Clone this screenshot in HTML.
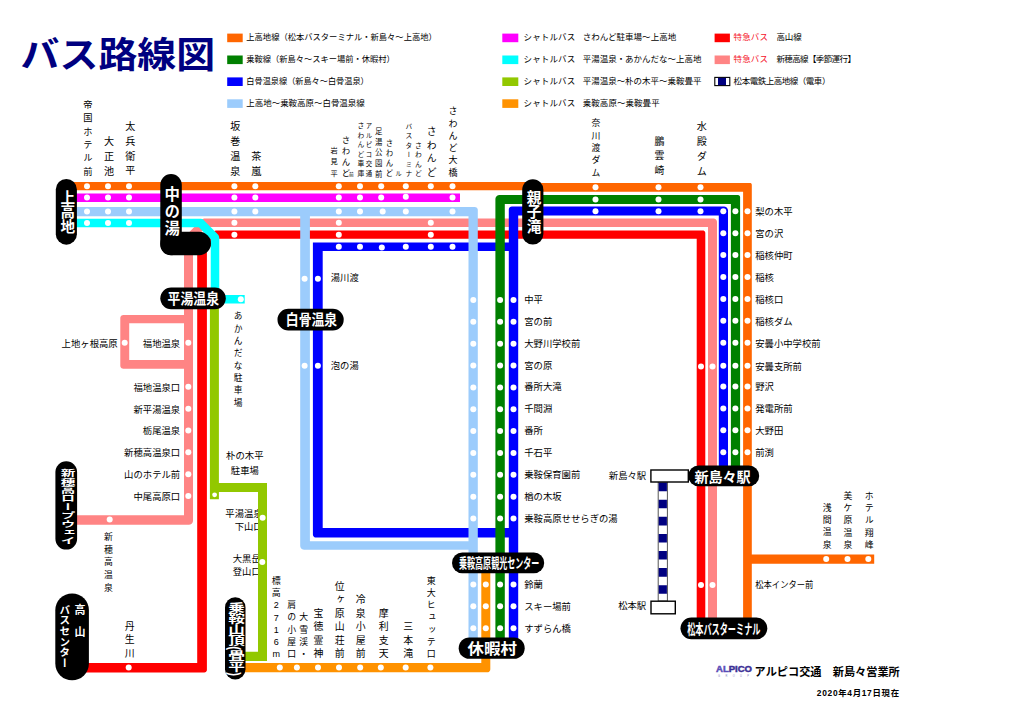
<!DOCTYPE html>
<html lang="ja"><head><meta charset="utf-8"><title>バス路線図</title><style>html,body{margin:0;padding:0;background:#fff}svg{display:block;font-family:"Liberation Sans","Noto Sans CJK JP",sans-serif}.v{writing-mode:vertical-rl}</style></head><body>
<svg width="1020" height="720" viewBox="0 0 1020 720" role="img" aria-label="バス路線図">
<rect width="1020" height="720" fill="#fff"/>
<text x="20.6" y="68.28" font-size="36" font-weight="bold" fill="#000080" textLength="194.5" lengthAdjust="spacingAndGlyphs">バス路線図</text>
<rect x="227.2" y="33.6" width="15.5" height="8.6" fill="#ff6600"/>
<text x="246.3" y="40.23" font-size="8.5" fill="#000" textLength="190.5" lengthAdjust="spacingAndGlyphs">上高地線（松本バスターミナル・新島々～上高地）</text>
<rect x="227.2" y="55.5" width="15.5" height="8.6" fill="#008000"/>
<text x="246.3" y="62.13" font-size="8.5" fill="#000" textLength="148.5" lengthAdjust="spacingAndGlyphs">乗鞍線（新島々～スキー場前・休暇村）</text>
<rect x="227.2" y="77.4" width="15.5" height="8.6" fill="#0000ff"/>
<text x="246.3" y="84.03" font-size="8.5" fill="#000" textLength="122.5" lengthAdjust="spacingAndGlyphs">白骨温泉線（新島々～白骨温泉）</text>
<rect x="227.2" y="99.3" width="15.5" height="8.6" fill="#9cccfc"/>
<text x="246.3" y="105.93" font-size="8.5" fill="#000" textLength="118.5">上高地～乗鞍高原～白骨温泉線</text>
<rect x="502.3" y="33.6" width="16" height="8.6" fill="#ff00ff"/>
<text x="523.6" y="40.23" font-size="8.5" fill="#000" textLength="51.6">シャトルバス</text>
<text x="582.7" y="40.23" font-size="8.5" fill="#000" textLength="93.5">さわんど駐車場～上高地</text>
<rect x="502.3" y="55.5" width="16" height="8.6" fill="#00ffff"/>
<text x="523.6" y="62.13" font-size="8.5" fill="#000" textLength="51.6">シャトルバス</text>
<text x="582.7" y="62.13" font-size="8.5" fill="#000" textLength="118.8">平湯温泉・あかんだな～上高地</text>
<rect x="502.3" y="77.4" width="16" height="8.6" fill="#92c800"/>
<text x="523.6" y="84.03" font-size="8.5" fill="#000" textLength="51.6">シャトルバス</text>
<text x="582.7" y="84.03" font-size="8.5" fill="#000" textLength="118.8">平湯温泉～朴の木平～乗鞍畳平</text>
<rect x="502.3" y="99.3" width="16" height="8.6" fill="#ff9200"/>
<text x="523.6" y="105.93" font-size="8.5" fill="#000" textLength="51.6">シャトルバス</text>
<text x="582.7" y="105.93" font-size="8.5" fill="#000" textLength="77">乗鞍高原～乗鞍畳平</text>
<rect x="714.6" y="33.6" width="15.3" height="8.6" fill="#ff0000"/>
<rect x="714.6" y="55.5" width="15.3" height="8.6" fill="#ff8484"/>
<rect x="714.8" y="77.4" width="15" height="8.2" fill="#fff" stroke="#000" stroke-width="1.1"/>
<rect x="718" y="77.9" width="8" height="7.2" fill="#000080"/>
<text x="733.6" y="40.23" font-size="8.5" fill="#f5142a" textLength="34.4">特急バス</text>
<text x="776.4" y="40.23" font-size="8.5" fill="#000" textLength="25.4">高山線</text>
<text x="733.6" y="62.13" font-size="8.5" fill="#f5142a" textLength="34.4">特急バス</text>
<text x="776.4" y="62.13" font-size="8.5" fill="#000" textLength="79.5">新穂高線【季節運行】</text>
<text x="733.6" y="84.03" font-size="8.5" fill="#000" textLength="96.8">松本電鉄上高地線（電車）</text>
<text x="225.3" y="517.35" font-size="9.35" fill="#000" textLength="37.4">平湯温泉</text>
<text x="234.65" y="530.25" font-size="9.35" fill="#000" textLength="28.05">下山口</text>
<text x="232.75" y="561.85" font-size="9.35" fill="#000" textLength="28.05">大黒岳</text>
<text x="232.75" y="574.75" font-size="9.35" fill="#000" textLength="28.05">登山口</text>
<path d="M202.48 219.05L202.12 219.27L201.78 219.52L201.47 219.8L190.57 230.65L190.29 230.95L190.05 231.27L185.05 238.57L184.83 238.94L184.64 239.32L184.49 239.73L184.42 240L184 240L184 315L123.3 315L122.37 315.15L121.54 315.57L120.87 316.24L120.45 317.07L120.3 318L120.3 365.7L120.45 366.63L120.87 367.46L121.54 368.13L122.37 368.55L123.3 368.7L184 368.7L184 515.3L70 515.3L70 524.7L189 524.7L190.24 524.5L191.35 523.94L192.24 523.05L192.8 521.94L193 520.7L193 242.19L196.92 236.46L206.33 227.1L708 227.1L708 628L717 628L717 221.9L716.84 220.88L716.37 219.96L715.64 219.23L714.72 218.76L713.7 218.6L206 218.6L206 218.55L204.5 218.55L204.08 218.57L203.66 218.63L203.26 218.73L202.86 218.88ZM129.2 323.3L184 323.3L184 360L129.2 360Z" fill="#ff8484"/>
<path d="M216.5 230.45L216.09 230.47L215.68 230.53L215.29 230.63L214.9 230.77L214.53 230.94L214.18 231.15L213.85 231.4L213.54 231.67L199.09 246.02L198.81 246.33L198.56 246.66L198.35 247.01L198.17 247.39L198.03 247.78L197.93 248.18L197.87 248.59L197.85 249L197.2 249L197.2 662.9L80 662.9L80 672.4L204.4 672.4L205.17 672.28L205.87 671.92L206.42 671.37L206.78 670.67L206.9 669.9L206.9 250.1L218.23 238.85L219 238.85L219 238.8L696.7 238.8L696.7 628L705.3 628L705.3 233L705.18 232.23L704.82 231.53L704.27 230.98L703.57 230.62L702.8 230.5L219 230.5L219 230.45Z" fill="#ff0000"/>
<g fill="none">
<path d="M70 223.05H200.6L215 237.45V299.15H244.7" stroke="#00ffff" stroke-width="8.5" stroke-linejoin="round"/>
</g>
<path d="M312.9 242.5L312.9 534.6L313.05 535.53L313.47 536.36L314.14 537.03L314.97 537.45L315.9 537.6L508.8 537.6L508.8 640L518.2 640L518.2 215.5L718.8 215.5L718.8 470L728 470L728 210.5L727.8 209.26L727.24 208.15L726.35 207.26L725.24 206.7L724 206.5L511.8 206.5L510.87 206.65L510.04 207.07L509.37 207.74L508.95 208.57L508.8 209.5L508.8 242.5ZM322.7 528L322.7 251.1L508.8 251.1L508.8 528Z" fill="#0000ff"/>
<path d="M70 207L70 216.2L300.2 216.2L300.2 545.8L300.4 547.04L300.96 548.15L301.85 549.04L302.96 549.6L304.2 549.8L468.5 549.8L468.5 640L477.8 640L477.8 210L477.65 209.07L477.23 208.24L476.56 207.57L475.73 207.15L474.8 207ZM309.9 216.2L468.5 216.2L468.5 541.3L309.9 541.3Z" fill="#9cccfc"/>
<path d="M495.4 199.1L495.4 640L504.8 640L504.8 204L730.9 204L730.9 470L740.1 470L740.1 197.1L740 196.48L739.72 195.92L739.28 195.48L738.72 195.2L738.1 195.1L499.4 195.1L498.16 195.3L497.05 195.86L496.16 196.75L495.6 197.86Z" fill="#008000"/>
<path d="M532 190.3L532 191.7L743.1 191.7L743.1 628L751.8 628L751.8 563.8L874.2 563.8L874.2 554.4L751.8 554.4L751.8 184.8L751.71 184.24L751.46 183.74L751.06 183.34L750.56 183.09L750 183L533 183L533 182L70 182L70 190.3Z" fill="#ff6600"/>
<path d="M460 193.4L460 201.9L70 201.9L70 193.4Z" fill="#ff00ff"/>
<path d="M209.9 300L209.9 499.3L218.9 499.3L218.9 492L258 492L258 651.8L240 651.8L240 660.9L267 660.9L267 483L218.9 483L218.9 300Z" fill="#92c800"/>
<path d="M481.3 663L240 663L240 672.3L487.3 672.3L488.23 672.15L489.06 671.73L489.73 671.06L490.15 670.23L490.3 669.3L490.3 565L481.3 565Z" fill="#ff9200"/>
<rect x="658.2" y="482" width="9.2" height="119" fill="#fff" stroke="#555" stroke-width="1"/>
<path d="M662.8 482.6V601" stroke="#000080" stroke-width="8.2" stroke-dasharray="8.6 8.5" fill="none"/>
<rect x="650.9" y="470" width="37.4" height="12" fill="#fff" stroke="#000" stroke-width="1.4"/>
<rect x="651" y="601.2" width="24.3" height="12.6" fill="#fff" stroke="#000" stroke-width="1.4"/>
<g fill="#fff">
<circle cx="87" cy="186.3" r="3"/>
<circle cx="108" cy="186.3" r="3"/>
<circle cx="129" cy="186.3" r="3"/>
<circle cx="234.4" cy="186.3" r="3"/>
<circle cx="255.3" cy="186.3" r="3"/>
<circle cx="338.8" cy="186.3" r="3"/>
<circle cx="360" cy="186.3" r="3"/>
<circle cx="381.2" cy="186.3" r="3"/>
<circle cx="405.8" cy="186.3" r="3"/>
<circle cx="430.8" cy="186.3" r="3"/>
<circle cx="452.5" cy="186.3" r="3"/>
<circle cx="595.5" cy="187.3" r="3"/>
<circle cx="658.5" cy="187.3" r="3"/>
<circle cx="700.5" cy="187.3" r="3"/>
<circle cx="87" cy="197.6" r="3"/>
<circle cx="108" cy="197.6" r="3"/>
<circle cx="129" cy="197.6" r="3"/>
<circle cx="234.4" cy="197.6" r="3"/>
<circle cx="255.3" cy="197.6" r="3"/>
<circle cx="338.8" cy="197.6" r="3"/>
<circle cx="360" cy="197.6" r="3"/>
<circle cx="381.2" cy="197.6" r="3"/>
<circle cx="452.5" cy="197.6" r="3"/>
<circle cx="405.8" cy="196.8" r="3"/>
<circle cx="87" cy="211.6" r="3"/>
<circle cx="108" cy="211.6" r="3"/>
<circle cx="129" cy="211.6" r="3"/>
<circle cx="234.4" cy="211.6" r="3"/>
<circle cx="255.3" cy="211.6" r="3"/>
<circle cx="338.8" cy="211.6" r="3"/>
<circle cx="360" cy="211.6" r="3"/>
<circle cx="382.7" cy="211.6" r="3"/>
<circle cx="405.8" cy="211.6" r="3"/>
<circle cx="452.5" cy="211.6" r="3"/>
<circle cx="87" cy="223.1" r="3"/>
<circle cx="108" cy="223.1" r="3"/>
<circle cx="129" cy="223.1" r="3"/>
<circle cx="234.4" cy="222.8" r="3"/>
<circle cx="338.8" cy="222.8" r="3"/>
<circle cx="430.8" cy="222.8" r="3"/>
<circle cx="234.4" cy="234.7" r="3"/>
<circle cx="338.8" cy="234.7" r="3"/>
<circle cx="430.8" cy="234.7" r="3"/>
<circle cx="338.8" cy="246.8" r="3"/>
<circle cx="360" cy="246.8" r="3"/>
<circle cx="405.8" cy="246.8" r="3"/>
<circle cx="430.8" cy="246.8" r="3"/>
<circle cx="452.5" cy="246.8" r="3"/>
<circle cx="381.8" cy="247.5" r="3"/>
<circle cx="595.5" cy="199.6" r="3"/>
<circle cx="658.5" cy="199.6" r="3"/>
<circle cx="700.5" cy="199.6" r="3"/>
<circle cx="595.5" cy="211.3" r="3"/>
<circle cx="658.5" cy="211.3" r="3"/>
<circle cx="700.5" cy="211.3" r="3"/>
<circle cx="723.3" cy="211.3" r="3"/>
<circle cx="735.4" cy="211.3" r="3"/>
<circle cx="747.5" cy="211.3" r="3"/>
<circle cx="723.3" cy="233.2" r="3"/>
<circle cx="735.4" cy="233.2" r="3"/>
<circle cx="747.5" cy="233.2" r="3"/>
<circle cx="723.3" cy="255.1" r="3"/>
<circle cx="735.4" cy="255.1" r="3"/>
<circle cx="747.5" cy="255.1" r="3"/>
<circle cx="723.3" cy="277" r="3"/>
<circle cx="735.4" cy="277" r="3"/>
<circle cx="747.5" cy="277" r="3"/>
<circle cx="723.3" cy="298.9" r="3"/>
<circle cx="735.4" cy="298.9" r="3"/>
<circle cx="747.5" cy="298.9" r="3"/>
<circle cx="723.3" cy="320.8" r="3"/>
<circle cx="735.4" cy="320.8" r="3"/>
<circle cx="747.5" cy="320.8" r="3"/>
<circle cx="723.3" cy="342.7" r="3"/>
<circle cx="735.4" cy="342.7" r="3"/>
<circle cx="747.5" cy="342.7" r="3"/>
<circle cx="723.3" cy="365.8" r="3"/>
<circle cx="735.4" cy="365.8" r="3"/>
<circle cx="747.5" cy="365.8" r="3"/>
<circle cx="723.3" cy="386.5" r="3"/>
<circle cx="735.4" cy="386.5" r="3"/>
<circle cx="747.5" cy="386.5" r="3"/>
<circle cx="723.3" cy="408.4" r="3"/>
<circle cx="735.4" cy="408.4" r="3"/>
<circle cx="747.5" cy="408.4" r="3"/>
<circle cx="723.3" cy="430.3" r="3"/>
<circle cx="735.4" cy="430.3" r="3"/>
<circle cx="747.5" cy="430.3" r="3"/>
<circle cx="723.3" cy="452.2" r="3"/>
<circle cx="735.4" cy="452.2" r="3"/>
<circle cx="747.5" cy="452.2" r="3"/>
<circle cx="701" cy="366.5" r="3"/>
<circle cx="712.5" cy="366.5" r="3"/>
<circle cx="701" cy="585" r="3"/>
<circle cx="712.5" cy="585" r="3"/>
<circle cx="473.3" cy="300" r="3"/>
<circle cx="500.1" cy="300" r="3"/>
<circle cx="513.5" cy="300" r="3"/>
<circle cx="473.3" cy="321.85" r="3"/>
<circle cx="500.1" cy="321.85" r="3"/>
<circle cx="513.5" cy="321.85" r="3"/>
<circle cx="473.3" cy="343.7" r="3"/>
<circle cx="500.1" cy="343.7" r="3"/>
<circle cx="513.5" cy="343.7" r="3"/>
<circle cx="473.3" cy="365.55" r="3"/>
<circle cx="500.1" cy="365.55" r="3"/>
<circle cx="513.5" cy="365.55" r="3"/>
<circle cx="473.3" cy="387.4" r="3"/>
<circle cx="500.1" cy="387.4" r="3"/>
<circle cx="513.5" cy="387.4" r="3"/>
<circle cx="473.3" cy="409.25" r="3"/>
<circle cx="500.1" cy="409.25" r="3"/>
<circle cx="513.5" cy="409.25" r="3"/>
<circle cx="473.3" cy="431.1" r="3"/>
<circle cx="500.1" cy="431.1" r="3"/>
<circle cx="513.5" cy="431.1" r="3"/>
<circle cx="473.3" cy="452.95" r="3"/>
<circle cx="500.1" cy="452.95" r="3"/>
<circle cx="513.5" cy="452.95" r="3"/>
<circle cx="473.3" cy="474.8" r="3"/>
<circle cx="500.1" cy="474.8" r="3"/>
<circle cx="513.5" cy="474.8" r="3"/>
<circle cx="473.3" cy="496.65" r="3"/>
<circle cx="500.1" cy="496.65" r="3"/>
<circle cx="513.5" cy="496.65" r="3"/>
<circle cx="473.3" cy="518.5" r="3"/>
<circle cx="500.1" cy="518.5" r="3"/>
<circle cx="513.5" cy="518.5" r="3"/>
<circle cx="473.3" cy="584.5" r="3"/>
<circle cx="485.8" cy="584.5" r="3"/>
<circle cx="500.1" cy="584.5" r="3"/>
<circle cx="513.5" cy="584.5" r="3"/>
<circle cx="473.3" cy="606.3" r="3"/>
<circle cx="485.8" cy="606.3" r="3"/>
<circle cx="500.1" cy="606.3" r="3"/>
<circle cx="513.5" cy="606.3" r="3"/>
<circle cx="473.3" cy="628.3" r="3"/>
<circle cx="485.8" cy="628.3" r="3"/>
<circle cx="500.1" cy="628.3" r="3"/>
<circle cx="513.5" cy="628.3" r="3"/>
<circle cx="304.6" cy="278.7" r="3"/>
<circle cx="317.9" cy="278.7" r="3"/>
<circle cx="304.6" cy="365.8" r="3"/>
<circle cx="317.9" cy="365.8" r="3"/>
<circle cx="188.3" cy="342.8" r="3"/>
<circle cx="188.3" cy="386.7" r="3"/>
<circle cx="188.3" cy="408.7" r="3"/>
<circle cx="188.3" cy="430.5" r="3"/>
<circle cx="188.3" cy="452.3" r="3"/>
<circle cx="188.3" cy="474.2" r="3"/>
<circle cx="188.3" cy="495.9" r="3"/>
<circle cx="124.7" cy="342.8" r="3"/>
<circle cx="109.7" cy="519.6" r="3"/>
<circle cx="128.7" cy="667.5" r="3"/>
<circle cx="240.8" cy="299.2" r="3"/>
<circle cx="262.6" cy="517.8" r="3"/>
<circle cx="262.3" cy="562" r="3"/>
<circle cx="214.6" cy="494.8" r="2.4"/>
<circle cx="279.8" cy="667.5" r="3"/>
<circle cx="296.9" cy="667.5" r="3"/>
<circle cx="318" cy="667.5" r="3"/>
<circle cx="339" cy="667.5" r="3"/>
<circle cx="360.2" cy="667.5" r="3"/>
<circle cx="380.8" cy="667.5" r="3"/>
<circle cx="405.7" cy="667.5" r="3"/>
<circle cx="430.4" cy="667.5" r="3"/>
<circle cx="826.2" cy="559" r="3"/>
<circle cx="847.5" cy="559" r="3"/>
<circle cx="868.3" cy="559" r="3"/>
</g>
<text x="755.2" y="215.15" font-size="9.35" fill="#000" textLength="37.4">梨の木平</text>
<text x="755.2" y="237.05" font-size="9.35" fill="#000" textLength="28.05">宮の沢</text>
<text x="755.2" y="258.95" font-size="9.35" fill="#000" textLength="37.4">稲核仲町</text>
<text x="755.2" y="280.85" font-size="9.35" fill="#000" textLength="18.7">稲核</text>
<text x="755.2" y="302.75" font-size="9.35" fill="#000" textLength="28.05">稲核口</text>
<text x="755.2" y="324.65" font-size="9.35" fill="#000" textLength="37.4">稲核ダム</text>
<text x="755.2" y="346.55" font-size="9.35" fill="#000" textLength="65.45">安曇小中学校前</text>
<text x="755.2" y="369.65" font-size="9.35" fill="#000" textLength="46.75">安曇支所前</text>
<text x="755.2" y="390.35" font-size="9.35" fill="#000" textLength="18.7">野沢</text>
<text x="755.2" y="412.25" font-size="9.35" fill="#000" textLength="37.4">発電所前</text>
<text x="755.2" y="434.15" font-size="9.35" fill="#000" textLength="28.05">大野田</text>
<text x="755.2" y="456.05" font-size="9.35" fill="#000" textLength="18.7">前渕</text>
<text x="755.2" y="587.85" font-size="9.35" fill="#000" textLength="58.2" lengthAdjust="spacingAndGlyphs">松本インター前</text>
<text x="524.2" y="303.05" font-size="9.35" fill="#000" textLength="18.7">中平</text>
<text x="524.2" y="324.9" font-size="9.35" fill="#000" textLength="28.05">宮の前</text>
<text x="524.2" y="346.75" font-size="9.35" fill="#000" textLength="56.1">大野川学校前</text>
<text x="524.2" y="368.6" font-size="9.35" fill="#000" textLength="28.05">宮の原</text>
<text x="524.2" y="390.45" font-size="9.35" fill="#000" textLength="37.4">番所大滝</text>
<text x="524.2" y="412.3" font-size="9.35" fill="#000" textLength="28.05">千間淵</text>
<text x="524.2" y="434.15" font-size="9.35" fill="#000" textLength="18.7">番所</text>
<text x="524.2" y="456" font-size="9.35" fill="#000" textLength="28.05">千石平</text>
<text x="524.2" y="477.85" font-size="9.35" fill="#000" textLength="56.1">乗鞍保育園前</text>
<text x="524.2" y="499.7" font-size="9.35" fill="#000" textLength="37.4">楢の木坂</text>
<text x="524.2" y="521.55" font-size="9.35" fill="#000" textLength="93.5">乗鞍高原せせらぎの湯</text>
<text x="524.2" y="588.35" font-size="9.35" fill="#000" textLength="18.7">鈴蘭</text>
<text x="524.2" y="610.15" font-size="9.35" fill="#000" textLength="46.75">スキー場前</text>
<text x="524.2" y="632.15" font-size="9.35" fill="#000" textLength="46.75">すずらん橋</text>
<text x="142.8" y="346.65" font-size="9.35" fill="#000" textLength="37.4">福地温泉</text>
<text x="133.45" y="390.55" font-size="9.35" fill="#000" textLength="46.75">福地温泉口</text>
<text x="133.45" y="412.55" font-size="9.35" fill="#000" textLength="46.75">新平湯温泉</text>
<text x="142.8" y="434.35" font-size="9.35" fill="#000" textLength="37.4">栃尾温泉</text>
<text x="124.1" y="456.15" font-size="9.35" fill="#000" textLength="56.1">新穂高温泉口</text>
<text x="124.1" y="478.05" font-size="9.35" fill="#000" textLength="56.1">山のホテル前</text>
<text x="133.45" y="499.75" font-size="9.35" fill="#000" textLength="46.75">中尾高原口</text>
<text x="61.6" y="346.65" font-size="9.35" fill="#000" textLength="56.1">上地ヶ根高原</text>
<text x="226.1" y="459.35" font-size="9.35" fill="#000" textLength="37.4">朴の木平</text>
<text x="230.78" y="474.35" font-size="9.35" fill="#000" textLength="28.05">駐車場</text>
<text x="330.7" y="280.85" font-size="9.35" fill="#000" textLength="28.05">湯川渡</text>
<text x="330.7" y="368.95" font-size="9.35" fill="#000" textLength="28.05">泡の湯</text>
<text x="608.8" y="478.75" font-size="9.35" fill="#000" textLength="37.4">新島々駅</text>
<text x="618.15" y="609.35" font-size="9.35" fill="#000" textLength="28.05">松本駅</text>
<text class="v" x="87" y="99.77" font-size="9.27" letter-spacing="4.05" fill="#000">帝国ホテル前</text>
<text class="v" x="108" y="135.75" font-size="10.09" letter-spacing="4.86" fill="#000">大正池</text>
<text class="v" x="129.3" y="120.95" font-size="10.09" letter-spacing="4.8" fill="#000">太兵衛平</text>
<text class="v" x="234.4" y="121.35" font-size="10.09" letter-spacing="4.8" fill="#000">坂巻温泉</text>
<text class="v" x="255.3" y="150.85" font-size="10.09" letter-spacing="5" fill="#000">茶嵐</text>
<text class="v" x="333.5" y="147" font-size="7.21" letter-spacing="3.9" fill="#000">岩見平</text>
<text class="v" x="344.9" y="135.38" font-size="8.45" letter-spacing="2.75" fill="#000">さわんど</text>
<text x="348.93" y="176" font-size="4.74" fill="#000">前</text>
<text class="v" x="360.4" y="122.5" font-size="6.8" letter-spacing="2.7" fill="#000">さわんど車庫</text>
<text class="v" x="368.9" y="122.71" font-size="6.39" letter-spacing="3.1" fill="#000">アルピコ交通</text>
<text class="v" x="377.8" y="127.69" font-size="7.42" letter-spacing="3.2" fill="#000">足湯公園前</text>
<text class="v" x="388.4" y="139.29" font-size="7.42" letter-spacing="2.75" fill="#000">さわんど</text>
<text class="v" x="398.4" y="170.71" font-size="6.39" fill="#000">ル</text>
<text class="v" x="408.3" y="122.9" font-size="6.8" letter-spacing="2.7" fill="#000">バスターミナ</text>
<text class="v" x="417.9" y="141.6" font-size="6.8" letter-spacing="2.8" fill="#000">さわんど</text>
<text class="v" x="431.1" y="126.66" font-size="9.89" letter-spacing="3.5" fill="#000">さわんど</text>
<text class="v" x="452" y="106.47" font-size="9.06" letter-spacing="3.2" fill="#000">さわんど大橋</text>
<text class="v" x="595.4" y="118.57" font-size="8.86" letter-spacing="3.5" fill="#000">奈川渡ダム</text>
<text class="v" x="658.9" y="135.86" font-size="9.89" letter-spacing="5" fill="#000">鵬雲崎</text>
<text class="v" x="700.7" y="121.15" font-size="10.09" letter-spacing="4.8" fill="#000">水殿ダム</text>
<text class="v" x="237.6" y="311.62" font-size="8.76" letter-spacing="3.6" fill="#000">あかんだな駐車場</text>
<text x="276.3 276.3 276.2 276.2 276.2 276.2 276.2" y="583.57 595.82 608.38 620.63 632.88 645.13 657.38" font-size="9" text-anchor="middle" fill="#000">標高2716m</text>
<text class="v" x="291.2" y="600.27" font-size="8.86" letter-spacing="3.4" fill="#000">肩の小屋口</text>
<text class="v" x="303.3" y="612.52" font-size="8.86" letter-spacing="3.4" fill="#000">大雪渓・</text>
<text class="v" x="318" y="608.06" font-size="9.89" letter-spacing="3.5" fill="#000">宝徳霊神</text>
<text class="v" x="339.2" y="581.26" font-size="9.89" letter-spacing="3.5" fill="#000">位ヶ原山荘前</text>
<text class="v" x="360.2" y="594.66" font-size="9.89" letter-spacing="3.5" fill="#000">冷泉小屋前</text>
<text class="v" x="383.1" y="608.06" font-size="9.89" letter-spacing="3.5" fill="#000">摩利支天</text>
<text class="v" x="407.8" y="621.46" font-size="9.89" letter-spacing="3.5" fill="#000">三本滝</text>
<text class="v" x="430.8" y="575.72" font-size="8.96" letter-spacing="3.3" fill="#000">東大ヒュッテ口</text>
<text class="v" x="108" y="531.77" font-size="8.86" letter-spacing="4.1" fill="#000">新穂高温泉</text>
<text class="v" x="129.2" y="621.26" font-size="9.89" letter-spacing="3.6" fill="#000">丹生川</text>
<text class="v" x="826.7" y="503.07" font-size="8.86" letter-spacing="3.4" fill="#000">浅間温泉</text>
<text class="v" x="847.5" y="491.07" font-size="8.86" letter-spacing="3.4" fill="#000">美ケ原温泉</text>
<text class="v" x="868.8" y="491.07" font-size="8.86" letter-spacing="3.4" fill="#000">ホテル翔峰</text>
<g fill="#000">
<rect x="55.8" y="179" width="21.1" height="65.7" rx="10.55"/>
<rect x="160.3" y="174" width="21.5" height="81.3" rx="10.75"/>
<rect x="160.3" y="231.7" width="50.6" height="23.6" rx="11.8"/>
<rect x="160.3" y="287.5" width="65.5" height="21.7" rx="10.85"/>
<rect x="277.5" y="308.8" width="66.2" height="21.7" rx="10.85"/>
<rect x="522.2" y="179.2" width="21.2" height="65.4" rx="10.6"/>
<rect x="688.3" y="465.5" width="70.9" height="20.8" rx="10.4"/>
<rect x="55.4" y="461.2" width="21.7" height="88.4" rx="10.85"/>
<rect x="55.3" y="593.4" width="33.6" height="86.9" rx="16.8"/>
<rect x="225" y="597.2" width="20.5" height="82.3" rx="10.25"/>
<rect x="452" y="552.5" width="92.2" height="20.8" rx="10.4"/>
<rect x="458.7" y="637.5" width="66" height="21.3" rx="10.65"/>
<rect x="680.5" y="617.5" width="86.8" height="21.7" rx="10.85"/>
</g>
<text class="v" x="66.3" y="189.7" font-size="14.6" font-weight="bold" fill="#fff">上高地</text>
<text class="v" x="170.8" y="186.5" font-size="15.4" letter-spacing="1.7" font-weight="bold" fill="#fff">中の湯</text>
<text x="167.6" y="303.75" font-size="14.6" font-weight="bold" fill="#fff" textLength="51.4" lengthAdjust="spacingAndGlyphs">平湯温泉</text>
<text x="285.8" y="324.85" font-size="14.6" font-weight="bold" fill="#fff" textLength="51.4" lengthAdjust="spacingAndGlyphs">白骨温泉</text>
<text class="v" x="532.6" y="189.9" font-size="14.6" font-weight="bold" fill="#fff">親子滝</text>
<text x="694.4" y="481.52" font-size="14" font-weight="bold" fill="#fff" textLength="56.2" lengthAdjust="spacingAndGlyphs">新島々駅</text>
<text class="v" transform="translate(66.2,468.6) scale(1,0.58)" font-size="14.6" font-weight="bold" fill="#fff">新穂高ロープウェイ</text>
<text class="v" x="79" y="604.1" font-size="11" font-weight="bold" fill="#fff">高　山</text>
<text class="v" x="64.2" y="604.5" font-size="10.6" font-weight="bold" fill="#fff">バスセンター</text>
<text class="v" transform="translate(235.3,602) scale(1,0.668)" font-size="16.6" font-weight="bold" fill="#fff">乗鞍山頂(畳平)</text>
<text x="459" y="568.09" font-size="13.4" font-weight="bold" fill="#fff" textLength="80.4" lengthAdjust="spacingAndGlyphs">乗鞍高原観光センター</text>
<text x="467.6" y="653.75" font-size="14.6" font-weight="bold" fill="#fff" textLength="49.4" lengthAdjust="spacingAndGlyphs">休暇村</text>
<text x="687.2" y="633.92" font-size="14" font-weight="bold" fill="#fff" textLength="73.2" lengthAdjust="spacingAndGlyphs">松本バスターミナル</text>
<text x="716" y="672.4" font-size="8.4" font-weight="bold" fill="#3d2f96" stroke="#3d2f96" stroke-width="0.45" textLength="36" lengthAdjust="spacingAndGlyphs"><tspan fill="#5a4db8" stroke="#5a4db8">AL</tspan>PICO</text>
<text x="718" y="677.2" font-size="2.6" fill="#8a86c0" textLength="31" lengthAdjust="spacing">GROUP</text>
<text x="754.6" y="675.66" font-size="11.2" font-weight="bold" fill="#000" textLength="145.2" lengthAdjust="spacingAndGlyphs">アルピコ交通　新島々営業所</text>
<text x="816.8" y="696.19" font-size="8.4" font-weight="bold" fill="#000" textLength="82.2">2020年4月17日現在</text>
</svg>
</body></html>
